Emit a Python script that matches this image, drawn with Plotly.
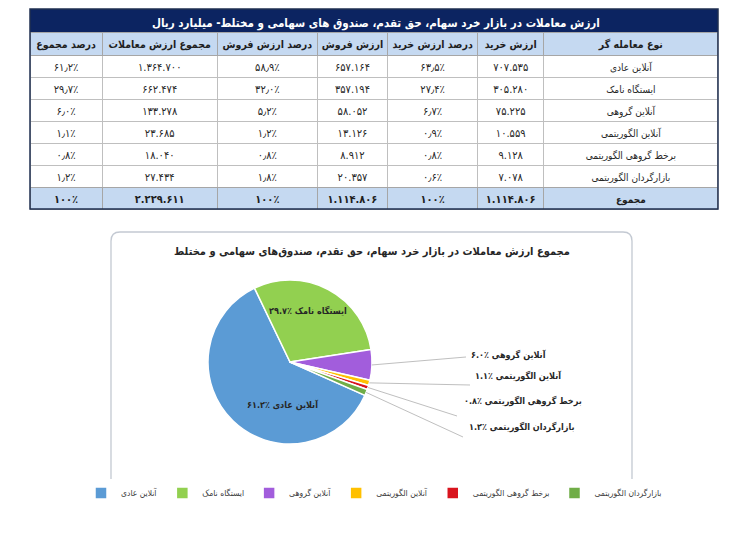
import math
import plotly.graph_objects as go

# page body keeps its default 8px margin, so the figure sits at (8, 8)
OFF = 8
W, H = 748 - OFF, 544 - OFF

# ---- data ----
trader_types = ["آنلاین عادی", "ایستگاه نامک", "آنلاین گروهی",
                "آنلاین الگوریتمی", "برخط گروهی الگوریتمی", "بازارگردان الگوریتمی"]
total_label = "مجموع"
buy_value = [707535, 305280, 75225, 10559, 9128, 7078]
buy_pct = [63.5, 27.4, 6.7, 0.9, 0.8, 0.6]
sell_value = [657164, 357194, 58052, 13126, 8912, 20357]
sell_pct = [58.9, 32.0, 5.2, 1.2, 0.8, 1.8]
trade_value = [1364700, 662474, 133278, 23685, 18040, 27434]
trade_pct = [61.2, 29.7, 6.0, 1.1, 0.8, 1.2]
totals_value = [1114806, 1114806, 2229611]   # buy, sell, trade
headers = ["نوع معامله گر", "ارزش خرید", "درصد ارزش خرید", "ارزش فروش",
           "درصد ارزش فروش", "مجموع ارزش معاملات", "درصد مجموع"]
table_title = "ارزش معاملات در بازار خرد سهام، حق تقدم، صندوق های سهامی و مختلط- میلیارد ریال"
pie_title = "مجموع ارزش معاملات در بازار خرد سهام، حق تقدم، صندوق‌های سهامی و مختلط"
slice_colors = ["#5B9BD5", "#92D050", "#A25DDC", "#FFC000", "#D9141E", "#70AD47"]

FA = str.maketrans("0123456789", "۰۱۲۳۴۵۶۷۸۹")
FONT = "DejaVu Sans Condensed, DejaVu Sans"
NB = "\u00a0"   # keeps plotly's table from wrapping the cells


def fa(s):
    return str(s).translate(FA)


def num(v):
    return fa(f"{v:,}".replace(",", "."))


def pct(p):
    return fa(f"{p:.1f}".replace(".", "٫")) + "٪"


def px(x):
    return (x - OFF) / W


def py(y):
    return 1 - (y - OFF) / H


navy = "#0C2461"
head_blue = "#C5D9F1"
txt = "#262626"

# table columns in reading order (right to left), reversed for plotly
cols = [
    trader_types,
    [num(v) for v in buy_value],
    [pct(p) for p in buy_pct],
    [num(v) for v in sell_value],
    [pct(p) for p in sell_pct],
    [num(v) for v in trade_value],
    [pct(p) for p in trade_pct],
]
total_row = [total_label, num(totals_value[0]), "۱۰۰٪", num(totals_value[1]), "۱۰۰٪",
             num(totals_value[2]), "۱۰۰٪"]
widths = [174, 66, 90, 70, 100, 115, 72]
sizes = [10, 11, 11, 11, 11, 11, 11]
cols = [[v.replace(" ", NB) for v in c] for c in cols[::-1]]
total_row = total_row[::-1]
widths = widths[::-1]
sizes = sizes[::-1]
hdr = [h.replace(" ", NB) for h in headers[::-1]]

top, head_h, row_h = 32, 23, 22
body_end = top + head_h + row_h * len(trader_types)

fig = go.Figure()
fig.add_trace(go.Table(
    domain=dict(x=[px(30), px(718)], y=[py(body_end + 2), py(top)]),
    columnwidth=widths,
    header=dict(values=hdr, fill_color=head_blue, height=head_h, align="center",
                line=dict(color="#A6A6A6", width=1),
                font=dict(family=FONT, size=10.5, color="#1F1F1F", weight="bold")),
    cells=dict(values=cols, fill_color="white", height=row_h, align="center",
               line=dict(color="#BFBFBF", width=1),
               font=dict(family=FONT, size=sizes, color=txt)),
))
# totals row
fig.add_trace(go.Table(
    domain=dict(x=[px(30), px(718)], y=[py(body_end + row_h + 2), py(body_end)]),
    columnwidth=widths,
    header=dict(values=total_row, fill_color=head_blue, height=row_h, align="center",
                line=dict(color="#A6A6A6", width=1),
                font=dict(family=FONT, size=sizes, color="#1F1F1F", weight="bold")),
    cells=dict(values=[[] for _ in total_row]),
))

# ---- pie ----
cx, cy, r = 290, 362, 82
rotation = 114
fig.add_trace(go.Pie(
    labels=trader_types, values=trade_value, sort=False, direction="clockwise",
    rotation=rotation, textinfo="none", hoverinfo="label+percent",
    marker=dict(colors=slice_colors, line=dict(color="white", width=1.5)),
    domain=dict(x=[px(cx - r), px(cx + r)], y=[py(cy + r), py(cy - r)]),
))

shapes = [
    # title bar
    dict(type="rect", xref="paper", yref="paper", x0=px(30), x1=px(718),
         y0=py(32), y1=py(9), fillcolor=navy, line=dict(width=0), layer="below"),
    # table frame
    dict(type="rect", xref="paper", yref="paper", x0=px(30), x1=px(718),
         y0=py(body_end + row_h), y1=py(9), line=dict(color="#1F2F50", width=1.5)),
]

# rounded box around the pie chart
bx0, bx1, by0, by1, rad = 111, 632, 232, 503, 9
rx, ry = rad / W, rad / H
path = (f"M{px(bx0) + rx},{py(by0)} L{px(bx1) - rx},{py(by0)} "
        f"Q{px(bx1)},{py(by0)} {px(bx1)},{py(by0) - ry} "
        f"L{px(bx1)},{py(by1) + ry} Q{px(bx1)},{py(by1)} {px(bx1) - rx},{py(by1)} "
        f"L{px(bx0) + rx},{py(by1)} Q{px(bx0)},{py(by1)} {px(bx0)},{py(by1) + ry} "
        f"L{px(bx0)},{py(by0) - ry} Q{px(bx0)},{py(by0)} {px(bx0) + rx},{py(by0)} Z")
shapes.append(dict(type="path", xref="paper", yref="paper", path=path,
                   line=dict(color="#C3C9D2", width=1.3), layer="below"))

annotations = [
    dict(text="<b>%s</b>" % table_title, x=px(376), y=py(14), xref="paper", yref="paper",
         showarrow=False, font=dict(family=FONT, size=11.5, color="white")),
    dict(text="<b>%s</b>" % pie_title, x=px(372), y=py(251), xref="paper", yref="paper",
         showarrow=False, font=dict(family=FONT, size=11, color=txt)),
]

# slice labels
total = sum(trade_value)
start = rotation
mids = []
for v in trade_value:
    span = 360 * v / total
    mids.append(start + span / 2)
    start += span


def lab(i):
    return "<b>%s ٪%s</b>" % (trader_types[i], fa(f"{trade_pct[i]:.1f}"))


inside_pos = [(282, 413), (308, 310)]
for i, (x, y) in enumerate(inside_pos):
    annotations.append(dict(text=lab(i), x=px(x), y=py(y), xref="paper", yref="paper",
                            showarrow=False, font=dict(family=FONT, size=9, color=txt)))

line_end = [(466, 357), (470, 385), (457, 416), (463, 437)]
text_pos = [(469, 355), (473, 384), (462, 409), (467, 435)]
for k, i in enumerate(range(2, 6)):
    a = math.radians(mids[i])
    sx, sy = cx + r * math.sin(a), cy - r * math.cos(a)
    ex, ey = line_end[k]
    shapes.append(dict(type="line", xref="paper", yref="paper", x0=px(sx), y0=py(sy),
                       x1=px(ex), y1=py(ey), line=dict(color="#BFBFBF", width=1)))
    tx, ty = text_pos[k]
    annotations.append(dict(text=lab(i), x=px(tx), y=py(ty), xref="paper", yref="paper",
                            xanchor="left", showarrow=False,
                            font=dict(family=FONT, size=9, color=txt)))

fig.update_layout(
    width=W, height=H,
    margin=dict(l=0, r=0, t=0, b=0),
    paper_bgcolor="white",
    font=dict(family=FONT, color=txt),
    shapes=shapes,
    annotations=annotations,
    showlegend=True,
    legend=dict(orientation="h", x=px(374), xanchor="center", y=py(493), yanchor="middle",
                font=dict(family=FONT, size=8.5, color="#404040"),
                itemwidth=30, tracegroupgap=0),
)

fig.write_html("out.html")
